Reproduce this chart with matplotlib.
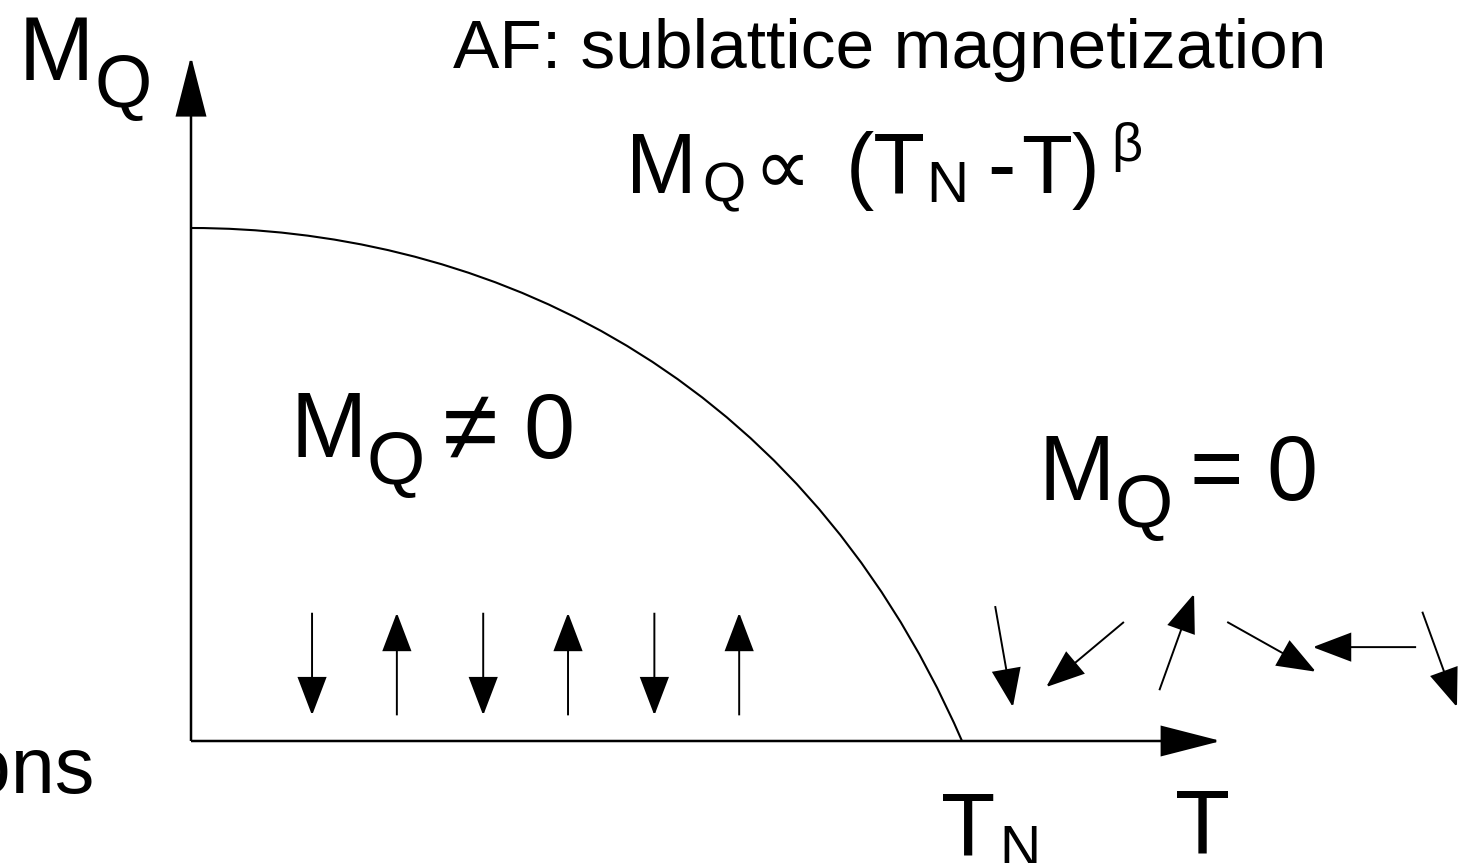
import matplotlib.pyplot as plt
from matplotlib.patches import FancyArrowPatch, PathPatch
from matplotlib.path import Path
from matplotlib.transforms import Affine2D

plt.rcParams['font.family'] = ['Liberation Sans', 'DejaVu Sans']

W, H = 1458, 863

# sublattice magnetization vs temperature (T in units of T_N, M_Q in units of M_Q(0)),
# given as the control points of one cubic Bezier from (0, 1) to (T_N, 0)
curve_ctrl_T = [0.0, 0.35, 0.78, 1.0]
curve_ctrl_M = [1.0, 1.0, 0.76, 0.0]

# ordered spins below T_N: up / down alternating
spin_T = [0.157, 0.267, 0.379, 0.489, 0.601, 0.711]
spin_sign = [-1, 1, -1, 1, -1, 1]
spin_lo, spin_hi = 0.05, 0.25

# disordered spins above T_N: tail (T0, M0) -> head (T1, M1)
para_T0 = [1.043, 1.210, 1.256, 1.344, 1.589, 1.597]
para_M0 = [0.263, 0.232, 0.099, 0.232, 0.183, 0.252]
para_T1 = [1.066, 1.109, 1.301, 1.459, 1.455, 1.642]
para_M1 = [0.066, 0.105, 0.287, 0.135, 0.183, 0.066]

axis_T_max = 1.336
axis_M_max = 1.335

fig = plt.figure(figsize=(W / 100, H / 100), dpi=100)
ax = fig.add_axes([0, 0, 1, 1])
ax.set_xlim(-191 / 771, (W - 191) / 771)
ax.set_ylim(-(H - 741) / 513, 741 / 513)
ax.axis('off')


def arrow(t0, m0, t1, m1, lw, hl, hw):
    ax.add_patch(FancyArrowPatch(
        (t0, m0), (t1, m1),
        arrowstyle=f'-|>,head_length={hl},head_width={hw}',
        mutation_scale=1, lw=lw, color='black',
        shrinkA=0, shrinkB=0, joinstyle='miter', capstyle='butt'))


# axes
arrow(0, 0, axis_T_max, 0, 1.8, 39, 10)
arrow(0, 0, 0, axis_M_max, 1.8, 39, 10)

curve = Path(list(zip(curve_ctrl_T, curve_ctrl_M)),
             [Path.MOVETO, Path.CURVE4, Path.CURVE4, Path.CURVE4])
ax.add_patch(PathPatch(curve, facecolor='none', edgecolor='black', lw=1.5))

for t, s in zip(spin_T, spin_sign):
    if s > 0:
        arrow(t, spin_lo, t, spin_hi, 1.4, 25, 9.5)
    else:
        arrow(t, spin_hi, t, spin_lo, 1.4, 25, 9.5)

for t0, m0, t1, m1 in zip(para_T0, para_M0, para_T1, para_M1):
    arrow(t0, m0, t1, m1, 1.4, 25, 9.5)

# labels, placed in pixel space (origin top-left)
pix = Affine2D().scale(1, -1).translate(0, H)


def label(x, y, s, size, ha='left'):
    ax.text(x, y, s, fontsize=size, transform=pix, ha=ha, va='baseline',
            color='black')


label(19, 80, 'M', 65)
label(94, 107, 'Q', 53)

label(453, 68, 'AF: sublattice magnetization', 50)

label(626, 193, 'M', 61)
label(702, 201, 'Q', 40)
label(753, 194, '\u221d', 58)
label(846, 193, '(T', 61)
label(926, 202, 'N', 42)
label(987, 193, '-', 61)
label(1021, 193, 'T)', 60)
label(1111, 161, '\u03b2', 39)

label(291, 457, 'M', 66)
label(366, 484, 'Q', 54)
label(443, 460, '\u2260', 72)
label(523, 458, '0', 66)

label(1038, 500, 'M', 66)
label(1114, 527, 'Q', 54)
label(1190, 500, '=', 66)
label(1266, 500, '0', 66)

label(941, 855, 'T', 64)
label(999, 866, 'N', 41)
label(1175, 853, 'T', 65)

label(95, 793, 'tions', 57, ha='right')

fig.savefig('out.png', dpi=100)
